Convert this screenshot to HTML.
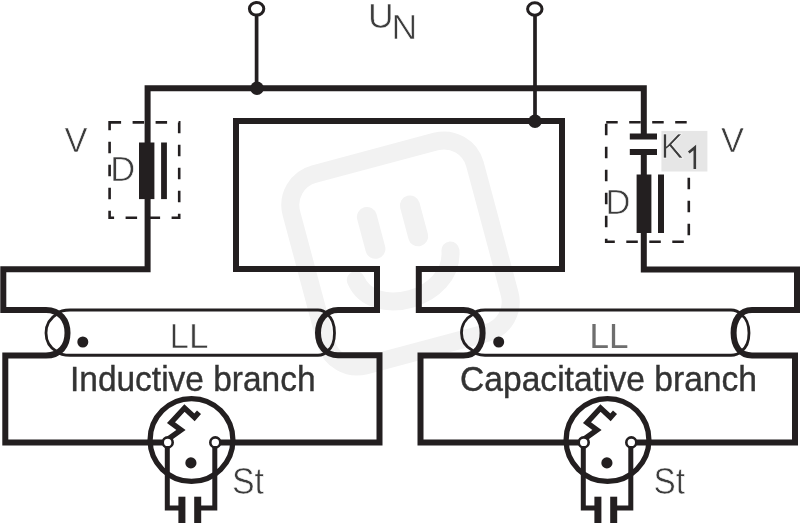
<!DOCTYPE html>
<html><head><meta charset="utf-8">
<style>
html,body{margin:0;padding:0;background:#fff;width:800px;height:523px;overflow:hidden}
svg{display:block;will-change:transform}
text{font-family:"Liberation Sans",sans-serif;fill:#333;}
.txt{opacity:0.999}
.thin{stroke:#fff;stroke-width:0.6px;fill:#3c3c3c}
</style></head><body>
<svg width="800" height="523" viewBox="0 0 800 523">
<!-- watermark -->
<g transform="translate(400.5,253.5) rotate(-15)" fill="none" stroke="#f2f2f2" stroke-linecap="round">
  <rect x="-95" y="-99" width="190" height="198" rx="32" stroke-width="18"/>
  <line x1="-23" y1="-44" x2="-23" y2="-11" stroke-width="20"/>
  <line x1="21.5" y1="-44" x2="21.5" y2="-12" stroke-width="20"/>
  <path d="M-50,14 C-44,58 40,58 49,10" stroke-width="18"/>
</g>

<g fill="none" stroke="#231f20" stroke-linejoin="miter">
  <!-- top terminals -->
  <line x1="256.6" y1="15" x2="256.6" y2="88" stroke-width="3.7"/>
  <line x1="535" y1="15" x2="535" y2="121" stroke-width="3.7"/>
  <ellipse cx="256.6" cy="8.8" rx="7.2" ry="6.3" stroke-width="3" fill="#fff"/>
  <ellipse cx="534.8" cy="9" rx="7.2" ry="6.3" stroke-width="3" fill="#fff"/>

  <!-- main wires (continuous) -->
  <path d="M162.5,442.4 H5.3 V355.5 H46 C60,355.5 67.5,346 67.5,333 C67.5,320 60,310 46,310 H3.3 V269.2 H147.6 V88.3 H643.8 V136" stroke-width="6"/>
  <path d="M643.8,152 V269.4 H797 V310 H752 C740,310 733.6,320 733.6,333 C733.6,346 740,355.4 752,355.4 H795 V442.4 H636.5" stroke-width="6"/>
  <path d="M220.3,442.4 H379.5 V355.3 H338 C326,355.3 318,346 318,333 C318,320 326,310 338,310 H377 V269.1 H236 V121 H562 V269.1 H418.8 V310 H463.5 C476,310 482.6,320 482.6,333 C482.6,346 476,355.4 463.5,355.4 H420.5 V442.4 H578.5" stroke-width="6"/>
  <!-- lamp 1 left end -->
  <path d="M57.3,313.7 C50,318 46,325 46,333 C46,341 50,348 57.3,352" stroke-width="2.8"/>
  <!-- lamp 1 right end -->
  <path d="M327.5,314.5 C332,318 334.5,325 334.5,333 C334.5,341 332,348 327.5,351" stroke-width="2.8"/>
  <!-- lamp1 tube -->
  <path d="M57.3,313.7 C60,311 63,310 70,310 H318 C322,310 325,311.5 327.5,314.5" stroke-width="3"/>
  <path d="M57.3,352 C60,354.5 63,355.2 70,355.2 H318 C322,355.2 325,354 327.5,351" stroke-width="3"/>

  <!-- lamp 2 left end -->
  <path d="M472.7,314.5 C466,318 461.5,325 461.5,333 C461.5,341 466,347 472.7,350.5" stroke-width="2.8"/>
  <!-- lamp 2 right end -->
  <path d="M741.3,314.5 C746,318 749,325 749,333 C749,341 746,348 741.3,351.2" stroke-width="2.8"/>
  <!-- lamp2 tube -->
  <path d="M472.7,314.5 C475,311.5 478,310 485,310 H731 C735,310 738.5,311.5 741.3,314.5" stroke-width="3"/>
  <path d="M472.7,350.5 C475,354 478,355.2 485,355.2 H731 C735,355.2 738.5,354 741.3,351.2" stroke-width="3"/>

  <!-- left dashed box -->
  <rect x="109.6" y="122.4" width="69.6" height="95.3" stroke-width="2.6" stroke-dasharray="11.5 11.5"/>
  <!-- right dashed box -->
  <rect x="606.2" y="122.3" width="82.6" height="119.4" stroke-width="2.6" stroke-dasharray="11.5 11.5"/>
</g>

<g fill="#231f20">
  <circle cx="257" cy="88.2" r="6.8"/>
  <circle cx="535" cy="121.2" r="6.8"/>
  <!-- left D -->
  <rect x="139" y="142.5" width="15.4" height="56.6"/>
  <rect x="161.1" y="142.5" width="5.8" height="56.6"/>
  <!-- right D -->
  <rect x="636.6" y="174.5" width="14.8" height="58.5"/>
  <rect x="658" y="174.5" width="6" height="58.5"/>
  <!-- capacitor plates -->
  <rect x="629.8" y="133.5" width="27.2" height="6"/>
  <rect x="629.8" y="149" width="27.2" height="6"/>
  <!-- lamp dots -->
  <circle cx="82.8" cy="342" r="5.5"/>
  <circle cx="498.7" cy="342" r="5.5"/>
</g>

<!-- K1 background -->
<rect x="661.4" y="130.9" width="46" height="40.6" fill="#e6e6e6"/>

<!-- starters -->
<g id="st1" fill="none" stroke="#231f20">
  <circle cx="191.5" cy="440" r="41.4" stroke-width="5.3"/>
  <path d="M169,438.5 L181,430 L171,422.6 L184.5,408 L194.5,417.3 L199,412.3" stroke-width="5.4"/>
  <path d="M167.3,447 V508 H182 M214.8,447 V508 H197" stroke-width="5"/>
  <circle cx="167.7" cy="442.4" r="5" stroke-width="2.6" fill="#fff"/>
  <circle cx="215.3" cy="442.4" r="5" stroke-width="2.6" fill="#fff"/>
  <rect x="178.4" y="496.7" width="7" height="30" fill="#231f20" stroke="none"/>
  <rect x="194.2" y="496.7" width="7" height="30" fill="#231f20" stroke="none"/>
  <circle cx="190.9" cy="462.9" r="5.6" fill="#231f20" stroke="none"/>
</g>
<use href="#st1" transform="translate(416,0)"/>

<!-- texts -->
<g class="txt">
<text class="thin" x="368" y="28.2" font-size="35.5">U</text>
<text class="thin" x="391.5" y="39.2" font-size="35.5">N</text>
<text class="thin" x="64.5" y="151.7" font-size="34.5">V</text>
<text class="thin" x="110.3" y="181" font-size="34.5">D</text>
<text class="thin" x="605.5" y="214.3" font-size="34.5">D</text>
<text class="thin" x="660.5" y="158" font-size="34.5">K</text>
<path d="M688.8,152.6 L694.8,147.6 V169" fill="none" stroke="#3a3a3a" stroke-width="2.6"/>
<text class="thin" x="721" y="151.5" font-size="34.5">V</text>
<text class="thin" x="169.5" y="347.8" font-size="35">LL</text>
<text x="589.5" y="347.8" font-size="35" style="fill:#6e6e6e">LL</text>
<text x="70" y="390.8" font-size="35.5" textLength="245.5" lengthAdjust="spacingAndGlyphs" style="stroke:#333;stroke-width:0.4px">Inductive branch</text>
<text x="460" y="391" font-size="35.5" textLength="297" lengthAdjust="spacingAndGlyphs" style="stroke:#333;stroke-width:0.4px">Capacitative branch</text>
<text class="thin" x="232" y="494.3" font-size="37.5" textLength="32" lengthAdjust="spacingAndGlyphs">St</text>
<text class="thin" x="653.5" y="494.3" font-size="37.5" textLength="31.5" lengthAdjust="spacingAndGlyphs">St</text>
</g>
</svg>
</body></html>
